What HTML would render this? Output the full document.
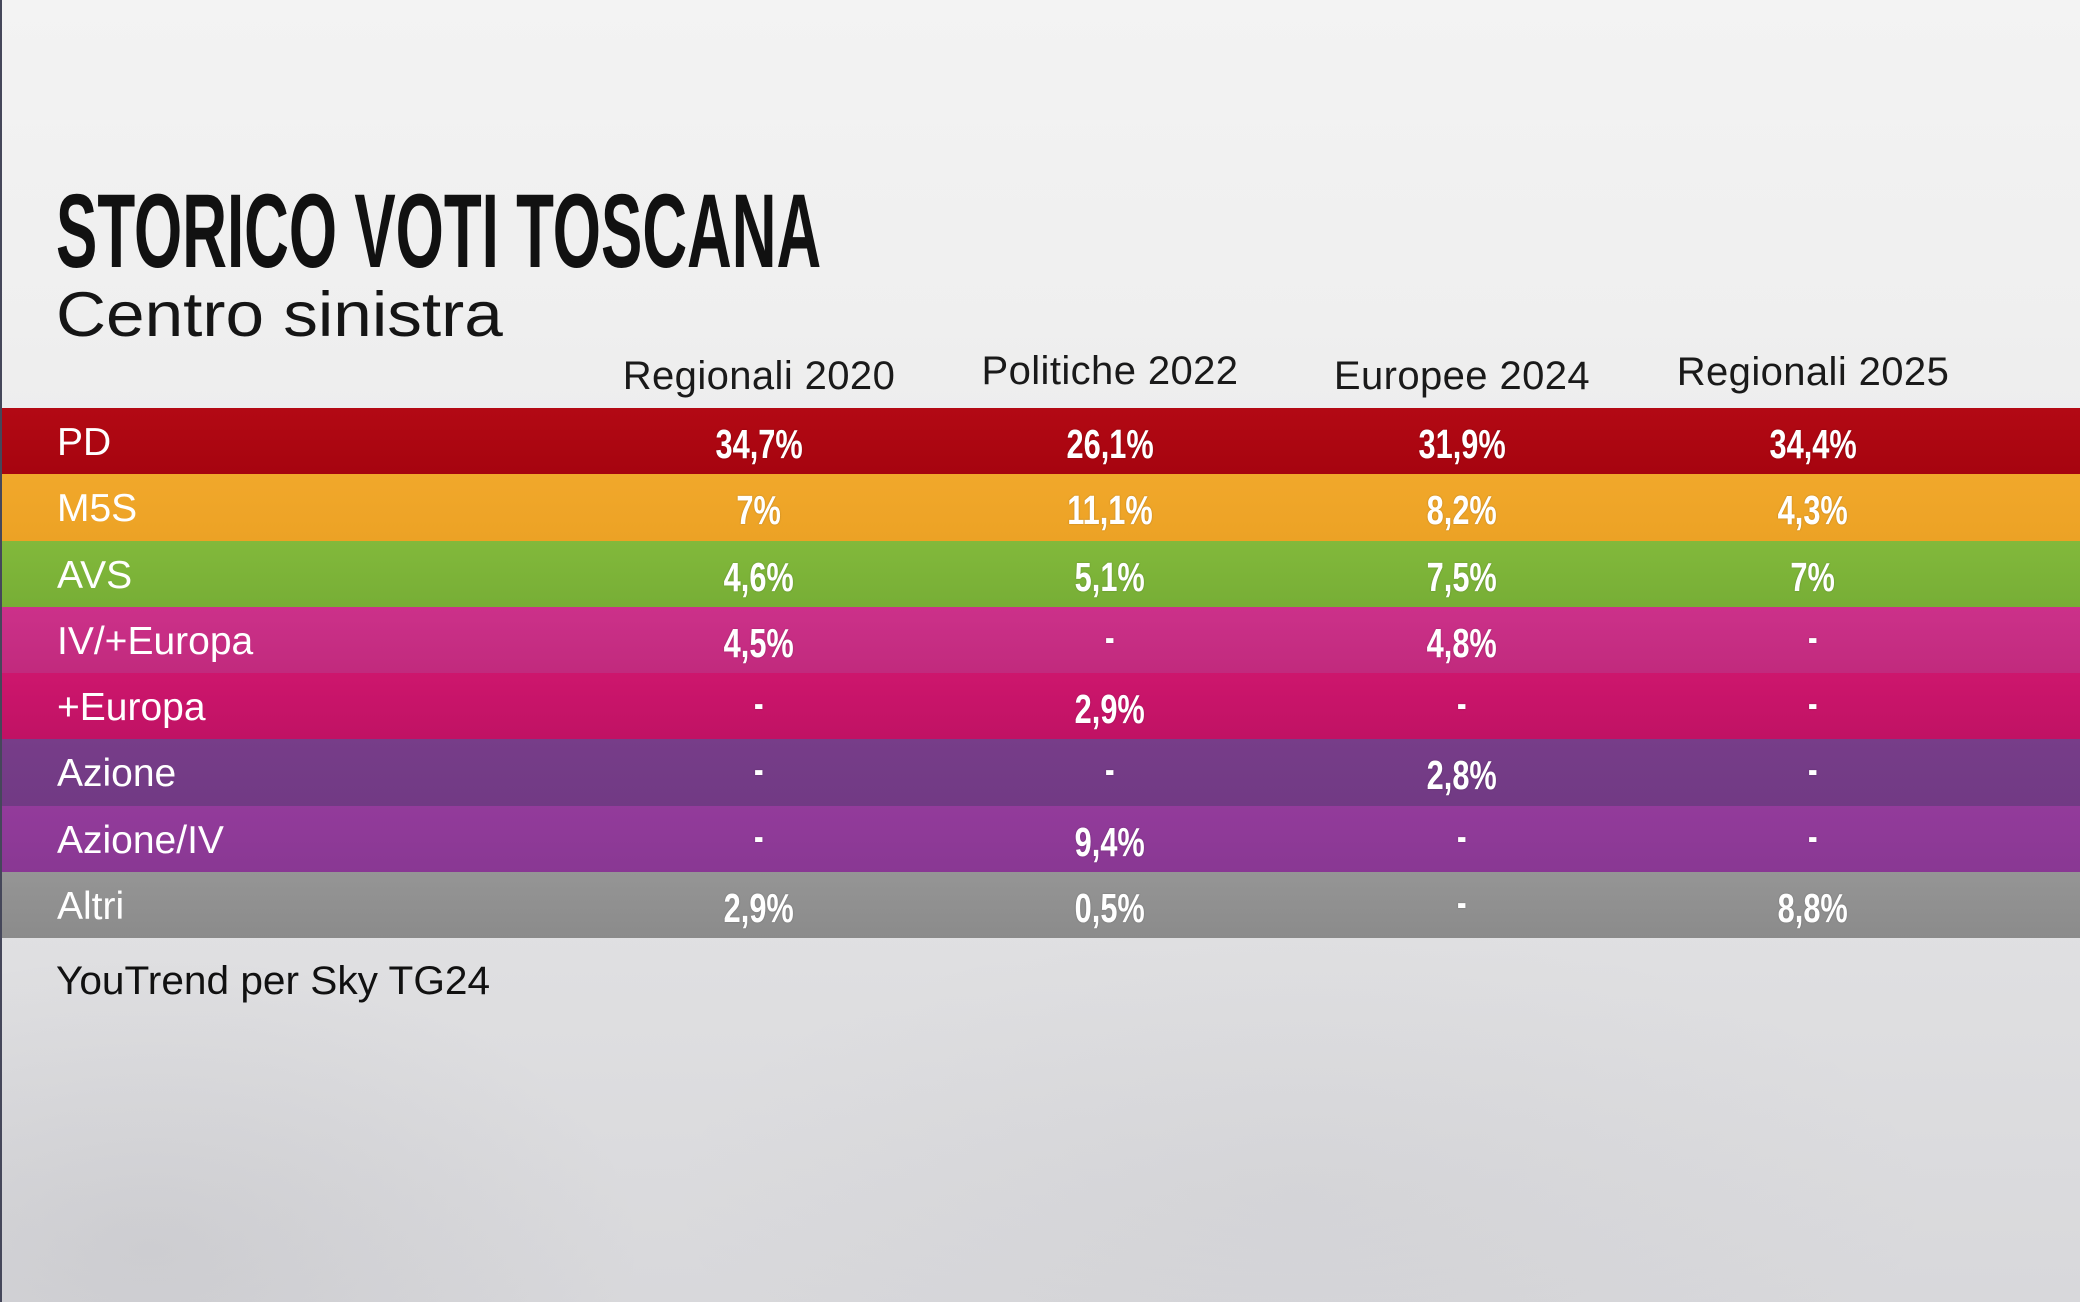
<!DOCTYPE html>
<html>
<head>
<meta charset="utf-8">
<style>
html,body{margin:0;padding:0;}
body{width:2080px;height:1302px;position:relative;overflow:hidden;
  font-family:"Liberation Sans",sans-serif;
  background:
    radial-gradient(ellipse 700px 420px at 150px 1250px, rgba(150,150,158,0.18), rgba(150,150,158,0) 70%),
    radial-gradient(ellipse 900px 400px at 1300px 1200px, rgba(160,160,168,0.10), rgba(160,160,168,0) 70%),
    linear-gradient(to bottom,#f3f3f3 0%,#efefef 25%,#e9e9ea 45%,#e0e0e2 70%,#d8d8db 100%);
}
.edge{position:absolute;left:0;top:0;width:2px;height:1302px;background:#45475a;}
.title{position:absolute;left:56px;top:179px;font-size:105px;line-height:105px;font-weight:bold;color:#111;
  white-space:nowrap;transform:scaleX(0.59);transform-origin:0 0;letter-spacing:0px;}
.sub{position:absolute;left:56px;top:284px;font-size:63px;line-height:63px;color:#151515;white-space:nowrap;
  transform:scaleX(1.1);transform-origin:0 0;}
.hdr{position:absolute;width:400px;text-align:center;font-size:40px;line-height:40px;color:#1a1a1a;white-space:nowrap;letter-spacing:0.4px;}
.rows{position:absolute;left:0;top:408px;width:2080px;height:530px;display:flex;flex-direction:column;}
.row{flex:1;position:relative;}
.lab{position:absolute;left:57px;top:15px;font-size:39px;line-height:39px;color:#fff;white-space:nowrap;}
.val{position:absolute;width:350px;top:16px;text-align:center;font-size:41px;line-height:41px;color:#fff;font-weight:bold;}
.val span{display:inline-block;transform:scaleX(0.75);transform-origin:50% 50%;text-shadow:0 0 2px rgba(0,0,0,0.25);}
.val span.d{position:relative;top:-6px;transform:scaleX(0.7);}
.c1{left:584px}.c2{left:935px}.c3{left:1287px}.c4{left:1638px}
.foot{position:absolute;left:56px;top:961px;font-size:40px;line-height:40px;color:#111;white-space:nowrap;transform:scaleX(1.015);transform-origin:0 0;}
</style>
</head>
<body>
<div class="title">STORICO VOTI TOSCANA</div>
<div class="sub">Centro sinistra</div>

<div class="hdr" style="left:559px;top:356px;">Regionali 2020</div>
<div class="hdr" style="left:910px;top:351px;">Politiche 2022</div>
<div class="hdr" style="left:1262px;top:356px;">Europee 2024</div>
<div class="hdr" style="left:1613px;top:352px;">Regionali 2025</div>

<div class="rows">
  <div class="row" style="background:linear-gradient(#b30914,#a6040f);">
    <div class="lab">PD</div>
    <div class="val c1"><span>34,7%</span></div>
    <div class="val c2"><span>26,1%</span></div>
    <div class="val c3"><span>31,9%</span></div>
    <div class="val c4"><span>34,4%</span></div>
  </div>
  <div class="row" style="background:linear-gradient(#f1a82b,#eca225);">
    <div class="lab">M5S</div>
    <div class="val c1"><span>7%</span></div>
    <div class="val c2"><span>11,1%</span></div>
    <div class="val c3"><span>8,2%</span></div>
    <div class="val c4"><span>4,3%</span></div>
  </div>
  <div class="row" style="background:linear-gradient(#82b93b,#77ae36);">
    <div class="lab">AVS</div>
    <div class="val c1"><span>4,6%</span></div>
    <div class="val c2"><span>5,1%</span></div>
    <div class="val c3"><span>7,5%</span></div>
    <div class="val c4"><span>7%</span></div>
  </div>
  <div class="row" style="background:linear-gradient(#cc318a,#c12a7d);">
    <div class="lab">IV/+Europa</div>
    <div class="val c1"><span>4,5%</span></div>
    <div class="val c2"><span class="d">-</span></div>
    <div class="val c3"><span>4,8%</span></div>
    <div class="val c4"><span class="d">-</span></div>
  </div>
  <div class="row" style="background:linear-gradient(#cd166d,#c01264);">
    <div class="lab">+Europa</div>
    <div class="val c1"><span class="d">-</span></div>
    <div class="val c2"><span>2,9%</span></div>
    <div class="val c3"><span class="d">-</span></div>
    <div class="val c4"><span class="d">-</span></div>
  </div>
  <div class="row" style="background:linear-gradient(#773d89,#713a84);">
    <div class="lab">Azione</div>
    <div class="val c1"><span class="d">-</span></div>
    <div class="val c2"><span class="d">-</span></div>
    <div class="val c3"><span>2,8%</span></div>
    <div class="val c4"><span class="d">-</span></div>
  </div>
  <div class="row" style="background:linear-gradient(#933b9b,#893893);">
    <div class="lab">Azione/IV</div>
    <div class="val c1"><span class="d">-</span></div>
    <div class="val c2"><span>9,4%</span></div>
    <div class="val c3"><span class="d">-</span></div>
    <div class="val c4"><span class="d">-</span></div>
  </div>
  <div class="row" style="background:linear-gradient(#959595,#8b8b8b);">
    <div class="lab">Altri</div>
    <div class="val c1"><span>2,9%</span></div>
    <div class="val c2"><span>0,5%</span></div>
    <div class="val c3"><span class="d">-</span></div>
    <div class="val c4"><span>8,8%</span></div>
  </div>
</div>

<div class="foot">YouTrend per Sky TG24</div>
<div class="edge"></div>
</body>
</html>
